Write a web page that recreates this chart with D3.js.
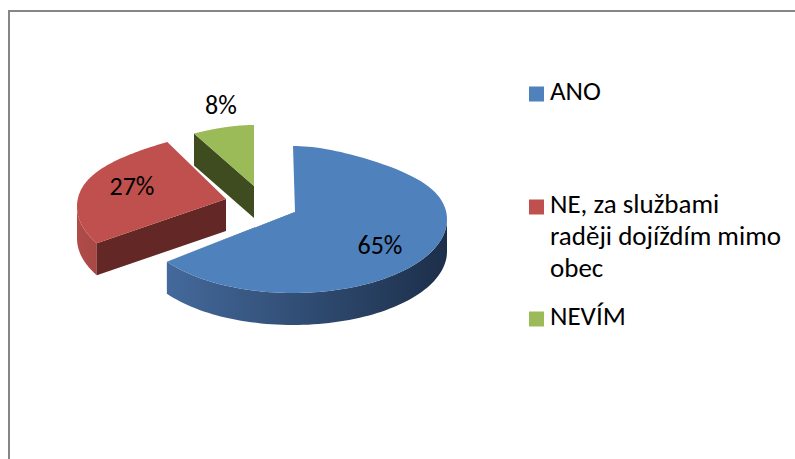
<!DOCTYPE html>
<html><head><meta charset="utf-8">
<script src="https://cdn.jsdelivr.net/npm/d3@7"></script>
<style>html,body{margin:0;padding:0;background:#fff}svg{display:block}text{font-family:Carlito,"Open Sans","Noto Sans",sans-serif;fill:#000}</style>
</head><body><div id="c"></div>
<script>
const categories = ["ANO", "NE, za službami raději dojíždím mimo obec", "NEVÍM"];
const values = [65, 27, 8];
const percentLabels = ["65%", "27%", "8%"];
const legendLines = [["ANO"], ["NE, za službami", "raději dojíždím mimo", "obec"], ["NEVÍM"]];
const topColors = ["#4f81bd", "#c0504d", "#9bbb59"];
const edgeColors = ["#1e3350", "#632726", "#3f4c1f"];
const wallFrom = ["#44699b", "#b04c49", "#8aa74e"];
const wallTo = ["#1c2f4a", "#a84845", "#8aa74e"];

const W = 795, H = 459;
const svg = d3.select("#c").append("svg").attr("width", W).attr("height", H);
const defs = svg.append("defs");

// frame: only the top and left edges fall inside the picture
svg.append("path").attr("d", d3.line()([[9, 459], [9, 11], [795, 11]]))
  .attr("fill", "none").attr("stroke", "#868686").attr("stroke-width", 2);

const apex = [[295, 212], [226, 199], [254, 186]];
const rimCentre = [[293, 219.5], [225, 206.5], [254, 193.5]];
const radiusX = [154, 148, 154];
const radiusY = [73.5, 73.5, 68.5];
const warpStart = [0, 6, 0].map(d => d * Math.PI / 180);
const warpEnd = [1, 0, 0].map(d => d * Math.PI / 180);
const depth = 32;

function project(a, t, i) {
  const theta = a.startAngle + (a.endAngle - a.startAngle) * t + warpStart[i] * (1 - t) + warpEnd[i] * t;
  const u = Math.sin(theta), v = -Math.cos(theta);
  const s = v < 0 ? 1 / (1 + 0.40 * v * v * v * v) : 1;
  const sx = d3.scaleLinear().domain([-1, 1]).range([rimCentre[i][0] - radiusX[i], rimCentre[i][0] + radiusX[i]]);
  const sy = d3.scaleLinear().domain([-1, 1]).range([rimCentre[i][1] - radiusY[i], rimCentre[i][1] + radiusY[i]]);
  return { p: [sx(u * s), sy(v)], v };
}

const pie = d3.pie().sort(null).value(d => d);
const arcs = pie(values);
const line = d3.line();
const down = p => [p[0], p[1] + depth];

const g = svg.append("g");
[2, 1, 0].forEach(i => {
  const a = arcs[i];
  const samples = d3.range(0, 121).map(k => project(a, k / 120, i));
  const pts = samples.map(d => d.p);
  const front = samples.filter(d => d.v > -0.02).map(d => d.p);
  if (front.length > 1) {
    const ext = d3.extent(front, p => p[0]);
    const id = "w" + i;
    const lg = defs.append("linearGradient").attr("id", id).attr("gradientUnits", "userSpaceOnUse")
      .attr("x1", ext[0]).attr("x2", ext[1]).attr("y1", 0).attr("y2", 0);
    lg.append("stop").attr("offset", 0).attr("stop-color", wallFrom[i]);
    lg.append("stop").attr("offset", 1).attr("stop-color", wallTo[i]);
    g.append("path").attr("d", line(front.concat(front.slice().reverse().map(down))) + "Z")
      .attr("fill", `url(#${id})`);
  }
  const centre = apex[i];
  if (i > 0) {
    const e = pts[0];
    g.append("path").attr("d", line([centre, e, down(e), down(centre)]) + "Z").attr("fill", edgeColors[i]);
  } else {
    const t = pts[pts.length - 1];
    g.append("path").attr("d", line([t, centre, [centre[0] - 1.5, centre[1] + 1]]) + "Z").attr("fill", edgeColors[i]);
  }
  g.append("path").attr("d", line([centre].concat(pts)) + "Z").attr("fill", topColors[i]);
});

// value labels
const labelPos = [[380, 248], [132, 189], [221, 108]];
labelPos.forEach((p, i) => {
  svg.append("text").attr("x", p[0]).attr("y", p[1]).attr("text-anchor", "middle").attr("dominant-baseline", "middle")
    .attr("font-size", 26).text(percentLabels[i]);
});

// legend
const legendTop = [94, 207, 319];
const lineH = d3.scaleLinear().domain([0, 1]).range([0, 32]);
categories.forEach((c, i) => {
  svg.append("rect").attr("x", 529).attr("y", legendTop[i] - 7.5).attr("width", 15).attr("height", 15).attr("fill", topColors[i]);
  legendLines[i].forEach((t, j) => {
    svg.append("text").attr("x", 550).attr("y", legendTop[i] + lineH(j)).attr("dominant-baseline", "middle")
      .attr("font-size", 27).text(t);
  });
});
</script></body></html>
